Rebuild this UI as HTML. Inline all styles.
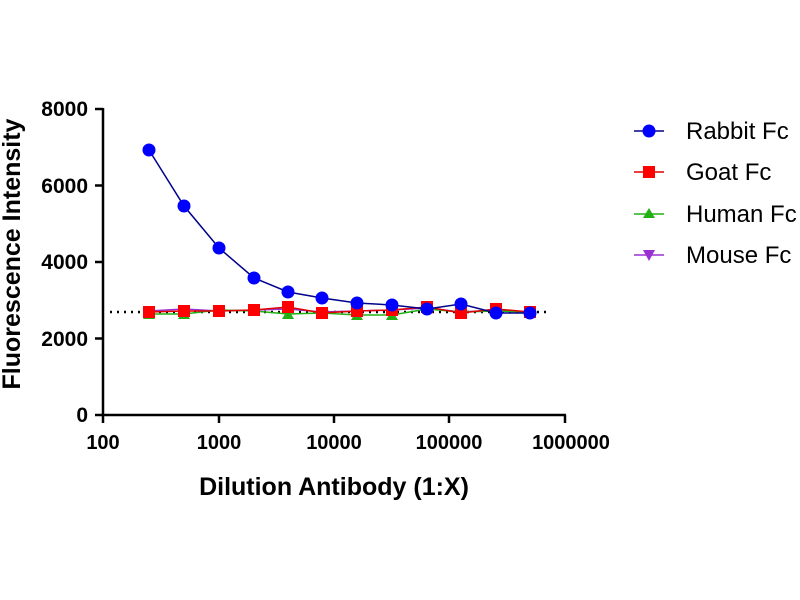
<!DOCTYPE html>
<html><head><meta charset="utf-8"><style>body{margin:0;background:#fff}svg{display:block}</style></head><body>
<svg width="800" height="600" xmlns="http://www.w3.org/2000/svg" font-family="Liberation Sans, sans-serif">
<rect width="800" height="600" fill="#fff"/>
<line x1="110" y1="312" x2="548" y2="312" stroke="#000" stroke-width="2.5" stroke-dasharray="2,5"/>
<g stroke="#000" stroke-width="2.5" fill="none">
<line x1="103" y1="108" x2="103" y2="416"/>
<line x1="102" y1="415" x2="566" y2="415"/>
<line x1="95" y1="109" x2="103" y2="109"/><line x1="95" y1="185.5" x2="103" y2="185.5"/><line x1="95" y1="262" x2="103" y2="262"/><line x1="95" y1="338.5" x2="103" y2="338.5"/><line x1="95" y1="415" x2="103" y2="415"/>
<line x1="103" y1="415" x2="103" y2="423"/><line x1="219" y1="415" x2="219" y2="423"/><line x1="334" y1="415" x2="334" y2="423"/><line x1="449" y1="415" x2="449" y2="423"/><line x1="565" y1="415" x2="565" y2="423"/>
</g>
<g font-size="21" font-weight="bold" text-anchor="end">
<text x="88" y="116">8000</text><text x="88" y="193">6000</text><text x="88" y="269">4000</text><text x="88" y="346">2000</text><text x="88" y="422">0</text>
</g>
<g font-size="20" font-weight="bold" text-anchor="middle">
<text x="103" y="449">100</text><text x="219" y="449">1000</text><text x="334" y="449">10000</text><text x="449" y="449">100000</text><text x="571" y="449">1000000</text>
</g>
<text x="334" y="495" font-size="25" font-weight="bold" text-anchor="middle">Dilution Antibody (1:X)</text>
<text transform="translate(20,254) rotate(-90)" font-size="25" font-weight="bold" text-anchor="middle">Fluorescence Intensity</text>
<polyline fill="none" stroke="#9b30d0" stroke-width="1.5" points="149,311 184,309 219,311 254,310 288,309 322,312 357,311 392,310 427,308 461,312 496,310 530,312"/>
<g fill="#9b30d0"><path d="M143,306h12l-6,11z"/><path d="M178,305h12l-6,11z"/></g>
<polyline fill="none" stroke="#22b014" stroke-width="1.5" points="149,314 184,314 219,310 254,311 288,314 322,313 357,315 392,315 427,309 461,312 496,311 530,312"/>
<g fill="#22b014"><path d="M149,309l6,10h-12z"/><path d="M184,309l6,10h-12z"/><path d="M288,309l6,10h-12z"/><path d="M357,310l6,10h-12z"/><path d="M392,310l6,10h-12z"/></g>
<polyline fill="none" stroke="#e00000" stroke-width="1.5" points="149,312 184,311 219,311 254,310 288,307 322,313 357,311 392,310 427,307 461,313 496,309 530,312"/>
<g fill="#f00">
<rect x="143" y="306" width="12" height="12"/><rect x="178" y="305" width="12" height="12"/><rect x="213" y="305" width="12" height="12"/><rect x="248" y="304" width="12" height="12"/><rect x="282" y="301" width="12" height="12"/><rect x="316" y="307" width="12" height="12"/><rect x="351" y="305" width="12" height="12"/><rect x="386" y="304" width="12" height="12"/><rect x="421" y="301" width="12" height="12"/><rect x="455" y="307" width="12" height="12"/><rect x="490" y="303" width="12" height="12"/><rect x="524" y="306" width="12" height="12"/>
</g>
<polyline fill="none" stroke="#00008b" stroke-width="1.5" points="149,150 184,206 219,248 254,278 288,292 322,298 357,303 392,305 427,309 461,304 496,313 530,313"/>
<g fill="#0000ff">
<circle cx="149" cy="150" r="6.5"/><circle cx="184" cy="206" r="6.5"/><circle cx="219" cy="248" r="6.5"/><circle cx="254" cy="278" r="6.5"/><circle cx="288" cy="292" r="6.5"/><circle cx="322" cy="298" r="6.5"/><circle cx="357" cy="303" r="6.5"/><circle cx="392" cy="305" r="6.5"/><circle cx="427" cy="309" r="6.5"/><circle cx="461" cy="304" r="6.5"/><circle cx="496" cy="313" r="6.5"/><circle cx="530" cy="313" r="6.5"/>
</g>
<g stroke-width="1.5">
<line x1="634" y1="131" x2="664" y2="131" stroke="#00008b"/><circle cx="649" cy="131" r="6.5" fill="#00f"/>
<line x1="634" y1="172" x2="664" y2="172" stroke="#e00000"/><rect x="643" y="166" width="12" height="12" fill="#f00"/>
<line x1="634" y1="214" x2="664" y2="214" stroke="#22b014"/><path d="M649,208l6,10h-12z" fill="#22b014"/>
<line x1="634" y1="255" x2="664" y2="255" stroke="#9b30d0"/><path d="M643,250h12l-6,11z" fill="#9b30d0"/>
</g>
<g font-size="24">
<text x="686" y="139">Rabbit Fc</text><text x="686" y="180">Goat Fc</text><text x="686" y="222">Human Fc</text><text x="686" y="263">Mouse Fc</text>
</g>
</svg>
</body></html>
